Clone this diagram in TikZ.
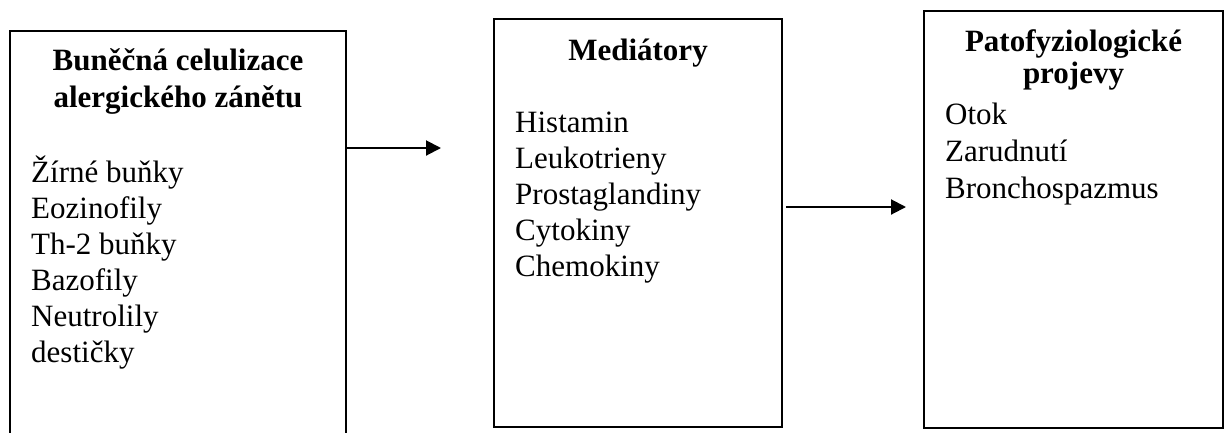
\documentclass[tikz,border=0pt]{standalone}
\usepackage{fontspec}
\setmainfont{Liberation Serif}
\usetikzlibrary{arrows.meta}
\begin{document}
\begin{tikzpicture}[x=1pt,y=-1pt,
  box/.style={draw,line width=2pt,inner sep=0pt,outer sep=0pt,anchor=north west},
  item/.style={anchor=base west,inner sep=0pt,font=\fontsize{31}{36}\selectfont},
  ttl/.style={anchor=base,inner sep=0pt,font=\fontsize{31}{36}\selectfont\bfseries},
  arr/.style={line width=2pt,-{Triangle[length=15pt,width=15pt]}}]
\useasboundingbox (0,0) rectangle (1230,432);
% boxes
\node[box,minimum width=336pt,minimum height=440pt] (lbox) at (10,31) {};
\node[box,minimum width=288pt,minimum height=408pt] (mbox) at (494,19) {};
\node[box,minimum width=299pt,minimum height=417pt] (rbox) at (924,11) {};
% left box texts
\node[ttl] (lt1) at (178,70) {Buněčná celulizace};
\node[ttl] (lt2) at (178,107) {alergického zánětu};
\foreach \t [count=\i] in {Žírné buňky,Eozinofily,Th-2 buňky,Bazofily,Neutrolily,destičky}
  \node[item] (li\i) at (31,{146+36*\i}) {\t};
% middle box texts
\node[ttl] (mt) at (638,60) {Mediátory};
\foreach \t [count=\i] in {Histamin,Leukotrieny,Prostaglandiny,Cytokiny,Chemokiny}
  \node[item] (mi\i) at (515,{96+36*\i}) {\t};
% right box texts
\node[ttl] (rt1) at (1073.5,51) {Patofyziologické};
\node[ttl] (rt2) at (1073.5,83) {projevy};
\foreach \t [count=\i] in {Otok,Zarudnutí,Bronchospazmus}
  \node[item] (ri\i) at (945,{87+37*\i}) {\t};
% arrows
\coordinate (t1) at (441,148);
\draw[arr] (lbox.east |- t1) -- (t1);
\coordinate (t2) at (906,207);
\draw[arr] ([xshift=4pt]mbox.east |- t2) -- (t2);
\end{tikzpicture}
\end{document}
